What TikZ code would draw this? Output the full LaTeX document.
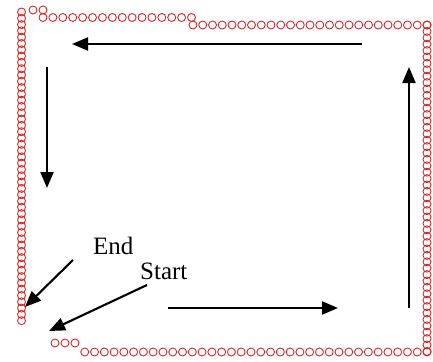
\documentclass[tikz,border=0pt]{standalone}
\usepackage{fontspec}
\setmainfont{Liberation Serif}
\usetikzlibrary{arrows.meta}
\definecolor{beadred}{HTML}{D42A2A}
\tikzset{
  bead/.style={draw=beadred, line width=0.9pt},
  flow/.style={line width=2.1pt, -{Triangle[length=16pt,width=13pt]}},
  tag/.style={font=\fontsize{25}{28}\selectfont, anchor=base west, inner sep=0pt}
}
\newcommand{\beadat}[2]{\draw[bead] (#1,#2) circle[radius=4];}
\begin{document}
\begin{tikzpicture}[x=1pt,y=-1pt]
\useasboundingbox (0,0) rectangle (433,361);
% left column of beads
\foreach \i in {0,...,49} {\beadat{21.5}{12+\i*6.3}}
% small kink at the upper left corner
\beadat{33}{10}
\beadat{43}{10}
% upper row, first stretch
\foreach \i in {0,...,15} {\beadat{43+\i*9.9}{17.5}}
% upper row after the step
\foreach \i in {0,...,24} {\beadat{193+\i*9.75}{25}}
% right column
\foreach \i in {0,...,51} {\beadat{427}{25+\i*6.4}}
% lower row
\foreach \i in {0,...,35} {\beadat{427-\i*9.78}{352}}
% kink at the lower left end
\beadat{75}{343}
\beadat{65}{343}
\beadat{55}{343}

% arrow end points
\coordinate (topA) at (362,44);
\coordinate (topB) at (72,44);
\coordinate (leftA) at (47,67);
\coordinate (leftB) at (47,188);
\coordinate (botA) at (168,308);
\coordinate (botB) at (338,308);
\coordinate (rightA) at (409,308);
\coordinate (rightB) at (409,67);

\draw[flow] (topA) -- (topB);
\draw[flow] (leftA) -- (leftB);
\draw[flow] (botA) -- (botB);
\draw[flow] (rightA) -- (rightB);

% labels and their pointers
\node[tag] (endlbl) at (93,254) {End};
\node[tag] (startlbl) at (140,279) {Start};
\coordinate (endA) at (73,260);
\coordinate (endB) at (25,307);
\coordinate (startA) at (147,285);
\coordinate (startB) at (49,331);
\draw[flow] (endA) -- (endB);
\draw[flow] (startA) -- (startB);
\end{tikzpicture}
\end{document}
